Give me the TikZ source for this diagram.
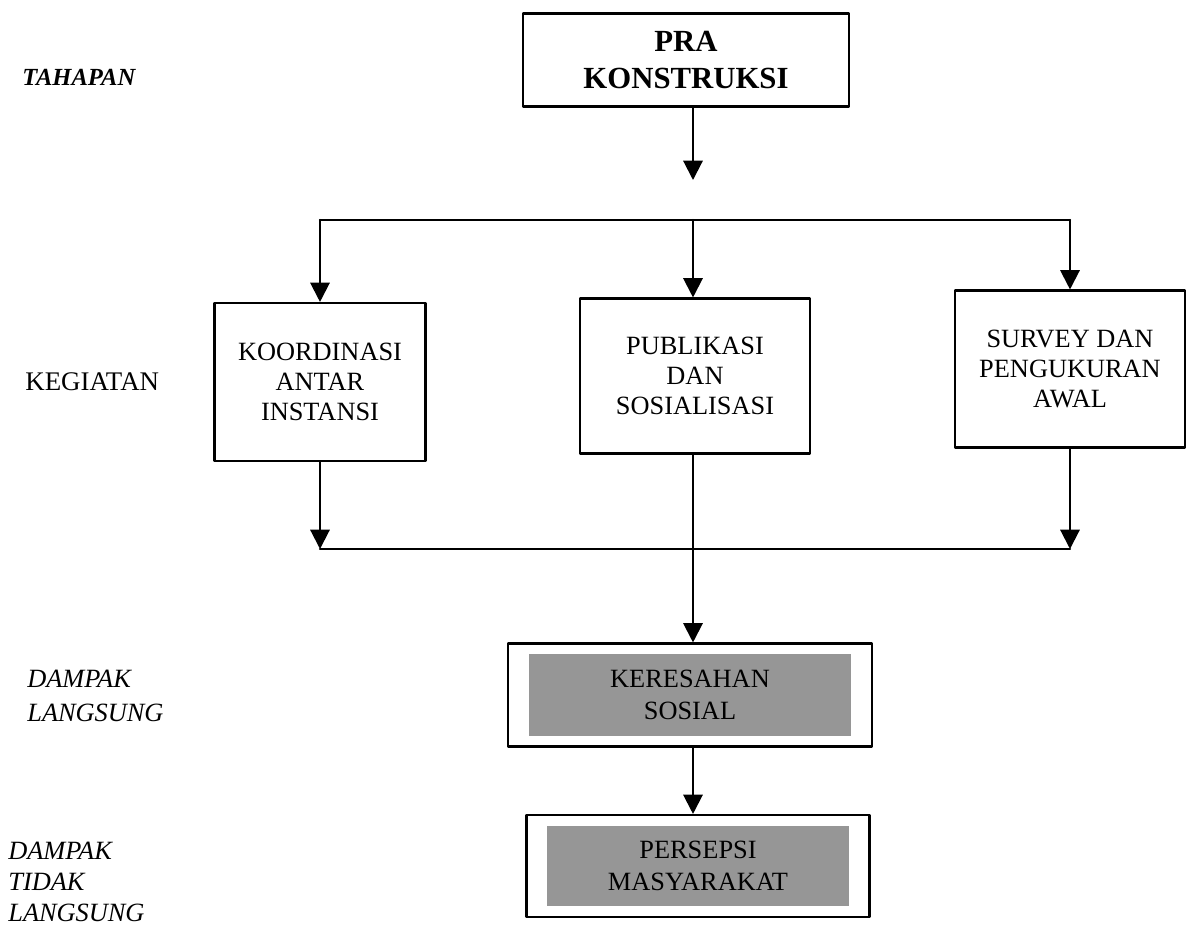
\documentclass[tikz,border=0pt]{standalone}
\usepackage{fontspec}
\setmainfont{Liberation Serif}
\usetikzlibrary{arrows.meta}
\definecolor{shadegray}{RGB}{150,150,150}

\begin{document}
\begin{tikzpicture}[line cap=round, line join=round, x=0.02cm, y=-0.02cm,
    box/.style={draw, line width=1.2pt, fill=white, align=center, inner sep=0pt,
        font=\fontsize{15}{17}\selectfont},
    shadebox/.style={fill=shadegray, align=center, inner sep=0pt,
        font=\fontsize{15}{18}\selectfont},
    lbl/.style={anchor=west, align=left, inner sep=0pt},
    arr/.style={line width=1.2pt, -{Triangle[width=11pt,length=11pt]}},
    ln/.style={line width=1.2pt}]

                \useasboundingbox (0,0) rectangle (1194,927);

                % left column
                \node[lbl, font=\bfseries\itshape\fontsize{14}{17}\selectfont] (tahapan) at (22,77) {TAHAPAN};
                \node[lbl, font=\fontsize{15.3}{17}\selectfont] (kegiatan) at (25,382) {KEGIATAN};
                \node[lbl, font=\itshape\fontsize{15}{19}\selectfont] (langsung) at (27,696) {DAMPAK\\LANGSUNG};
                \node[lbl, font=\itshape\fontsize{15}{17.5}\selectfont] (tdklangsung) at (8,882) {DAMPAK\\TIDAK\\LANGSUNG};

                % boxes
                \node[box, font=\bfseries\fontsize{17.5}{21.5}\selectfont, minimum width=6.52cm, minimum height=1.86cm] (pra) at (686,60) {PRA\\KONSTRUKSI};

                \node[box, minimum width=4.22cm, minimum height=3.16cm] (koord) at (320,382) {KOORDINASI\\ANTAR\\INSTANSI};
                \node[box, minimum width=4.6cm, minimum height=3.1cm] (publ) at (695,376) {PUBLIKASI\\DAN\\SOSIALISASI};
                \node[box, minimum width=4.6cm, minimum height=3.14cm] (survey) at (1070,369) {SURVEY DAN\\PENGUKURAN\\AWAL};

                \node[box, minimum width=7.28cm, minimum height=2.06cm] (keres) at (690,695) {};
                \node[shadebox, minimum width=6.44cm, minimum height=1.64cm] (keresin) at (keres) {KERESAHAN\\SOSIAL};
                \node[box, minimum width=6.86cm, minimum height=2.04cm] (persep) at (698,866) {};
                \node[shadebox, minimum width=6.06cm, minimum height=1.6cm] (persepin) at (persep) {PERSEPSI\\MASYARAKAT};

                % connectors
                \coordinate (tip) at (693,180);
                \coordinate (split) at (693,220);
                \coordinate (join) at (693,549);

                \draw[arr] (pra.south -| tip) -- (tip);

                \draw[ln] (koord.north |- split) -- (survey.north |- split);
                \draw[arr] (koord.north |- split) -- (koord.north);
                \draw[arr] (split) -- (publ.north -| split);
                \draw[arr] (survey.north |- split) -- (survey.north);

                \draw[arr] (koord.south) -- (koord.south |- join);
                \draw[arr] (survey.south) -- (survey.south |- join);
                \draw[ln] (koord.south |- join) -- (survey.south |- join);

                \draw[arr] (publ.south -| join) -- (keres.north -| join);
                \draw[arr] (keres.south -| join) -- (persep.north -| join);

            \end{tikzpicture}
\end{document}
